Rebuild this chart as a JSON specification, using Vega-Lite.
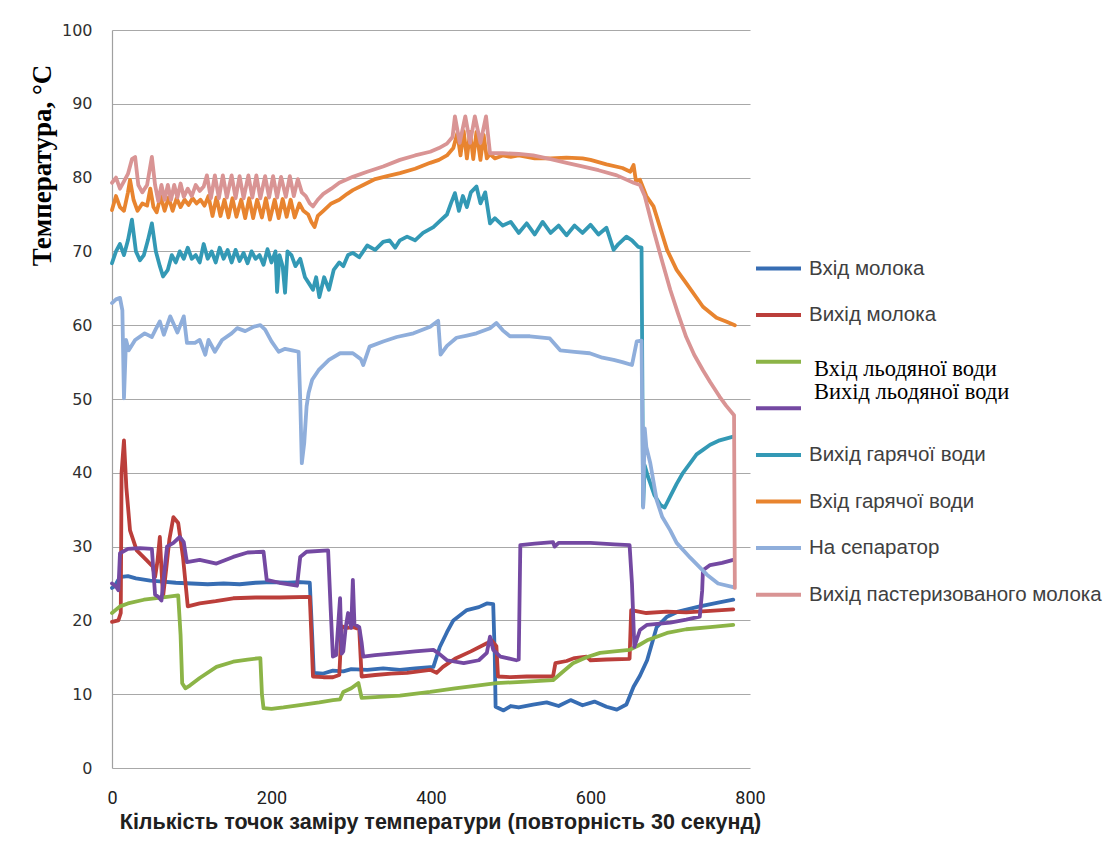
{
"$schema":"https://vega.github.io/schema/vega-lite/v6.json",
"width":638,"height":738,
"autosize":"none",
"padding":{"left":112,"top":30,"right":368,"bottom":74},
"background":"white",
"config":{"view":{"stroke":null}},
"data":{"values":[
{"s":"Вхід молока","x":0,"y":24.4},{"s":"Вхід молока","x":3,"y":24.6},{"s":"Вхід молока","x":8,"y":25.5},{"s":"Вхід молока","x":12,"y":25.9},{"s":"Вхід молока","x":20,"y":26},{"s":"Вхід молока","x":30,"y":25.7},{"s":"Вхід молока","x":48,"y":25.4},{"s":"Вхід молока","x":60,"y":25.3},{"s":"Вхід молока","x":80,"y":25.1},{"s":"Вхід молока","x":100,"y":25},{"s":"Вхід молока","x":120,"y":24.9},{"s":"Вхід молока","x":140,"y":25},{"s":"Вхід молока","x":160,"y":24.9},{"s":"Вхід молока","x":180,"y":25.1},{"s":"Вхід молока","x":200,"y":25.2},{"s":"Вхід молока","x":220,"y":25.1},{"s":"Вхід молока","x":236,"y":25.2},{"s":"Вхід молока","x":248,"y":25.1},{"s":"Вхід молока","x":251,"y":18},{"s":"Вхід молока","x":253,"y":12.9},{"s":"Вхід молока","x":265,"y":12.8},{"s":"Вхід молока","x":277,"y":13.2},{"s":"Вхід молока","x":290,"y":13.1},{"s":"Вхід молока","x":300,"y":13.4},{"s":"Вхід молока","x":320,"y":13.3},{"s":"Вхід молока","x":340,"y":13.5},{"s":"Вхід молока","x":361,"y":13.3},{"s":"Вхід молока","x":380,"y":13.5},{"s":"Вхід молока","x":403,"y":13.7},{"s":"Вхід молока","x":411,"y":16.4},{"s":"Вхід молока","x":420,"y":18.4},{"s":"Вхід молока","x":428,"y":20},{"s":"Вхід молока","x":445,"y":21.4},{"s":"Вхід молока","x":460,"y":21.8},{"s":"Вхід молока","x":470,"y":22.3},{"s":"Вхід молока","x":478,"y":22.2},{"s":"Вхід молока","x":480,"y":15},{"s":"Вхід молока","x":481,"y":8.3},{"s":"Вхід молока","x":491,"y":7.8},{"s":"Вхід молока","x":500,"y":8.4},{"s":"Вхід молока","x":510,"y":8.2},{"s":"Вхід молока","x":528,"y":8.6},{"s":"Вхід молока","x":545,"y":8.9},{"s":"Вхід молока","x":560,"y":8.4},{"s":"Вхід молока","x":575,"y":9.2},{"s":"Вхід молока","x":590,"y":8.5},{"s":"Вхід молока","x":605,"y":9},{"s":"Вхід молока","x":620,"y":8.3},{"s":"Вхід молока","x":633,"y":7.9},{"s":"Вхід молока","x":645,"y":8.6},{"s":"Вхід молока","x":654,"y":11},{"s":"Вхід молока","x":662,"y":12.5},{"s":"Вхід молока","x":671,"y":14.6},{"s":"Вхід молока","x":683,"y":19.1},{"s":"Вхід молока","x":696,"y":20.5},{"s":"Вхід молока","x":710,"y":21.2},{"s":"Вхід молока","x":737,"y":21.9},{"s":"Вхід молока","x":760,"y":22.4},{"s":"Вхід молока","x":779,"y":22.8},

{"s":"Вихід молока","x":0,"y":19.8},{"s":"Вихід молока","x":8,"y":20},{"s":"Вихід молока","x":11,"y":21},{"s":"Вихід молока","x":12,"y":40},{"s":"Вихід молока","x":15,"y":44.4},{"s":"Вихід молока","x":18,"y":38},{"s":"Вихід молока","x":22.6,"y":32.2},{"s":"Вихід молока","x":31,"y":29.5},{"s":"Вихід молока","x":43,"y":28.2},{"s":"Вихід молока","x":51,"y":27.3},{"s":"Вихід молока","x":54,"y":25.9},{"s":"Вихід молока","x":57,"y":28},{"s":"Вихід молока","x":60,"y":31.3},{"s":"Вихід молока","x":62,"y":27},{"s":"Вихід молока","x":64,"y":23.2},{"s":"Вихід молока","x":68,"y":27},{"s":"Вихід молока","x":72,"y":31},{"s":"Вихід молока","x":77,"y":34},{"s":"Вихід молока","x":83,"y":33.2},{"s":"Вихід молока","x":89,"y":28.6},{"s":"Вихід молока","x":95,"y":21.9},{"s":"Вихід молока","x":110,"y":22.3},{"s":"Вихід молока","x":130,"y":22.6},{"s":"Вихід молока","x":152,"y":23},{"s":"Вихід молока","x":180,"y":23.1},{"s":"Вихід молока","x":210,"y":23.1},{"s":"Вихід молока","x":248,"y":23.2},{"s":"Вихід молока","x":250,"y":18},{"s":"Вихід молока","x":252,"y":12.4},{"s":"Вихід молока","x":265,"y":12.3},{"s":"Вихід молока","x":277,"y":12.3},{"s":"Вихід молока","x":285,"y":12.6},{"s":"Вихід молока","x":288,"y":19.2},{"s":"Вихід молока","x":295,"y":19},{"s":"Вихід молока","x":302,"y":19.1},{"s":"Вихід молока","x":310,"y":18.8},{"s":"Вихід молока","x":313,"y":12.4},{"s":"Вихід молока","x":330,"y":12.6},{"s":"Вихід молока","x":350,"y":12.8},{"s":"Вихід молока","x":370,"y":12.9},{"s":"Вихід молока","x":399,"y":13.3},{"s":"Вихід молока","x":407,"y":12.9},{"s":"Вихід молока","x":415,"y":13.7},{"s":"Вихід молока","x":430,"y":14.8},{"s":"Вихід молока","x":450,"y":15.8},{"s":"Вихід молока","x":470,"y":16.9},{"s":"Вихід молока","x":476,"y":17.3},{"s":"Вихід молока","x":482,"y":16.5},{"s":"Вихід молока","x":484,"y":12.4},{"s":"Вихід молока","x":500,"y":12.3},{"s":"Вихід молока","x":520,"y":12.4},{"s":"Вихід молока","x":553,"y":12.4},{"s":"Вихід молока","x":556,"y":14.2},{"s":"Вихід молока","x":570,"y":14.5},{"s":"Вихід молока","x":580,"y":14.9},{"s":"Вихід молока","x":595,"y":15.1},{"s":"Вихід молока","x":600,"y":14.6},{"s":"Вихід молока","x":620,"y":14.7},{"s":"Вихід молока","x":649,"y":14.8},{"s":"Вихід молока","x":651,"y":21.4},{"s":"Вихід молока","x":670,"y":21},{"s":"Вихід молока","x":696,"y":21.2},{"s":"Вихід молока","x":720,"y":21.1},{"s":"Вихід молока","x":750,"y":21.3},{"s":"Вихід молока","x":779,"y":21.5},

{"s":"Вхід льодяної води","x":0,"y":21},{"s":"Вхід льодяної води","x":10,"y":21.9},{"s":"Вхід льодяної води","x":20,"y":22.3},{"s":"Вхід льодяної води","x":40,"y":22.8},{"s":"Вхід льодяної води","x":69,"y":23.2},{"s":"Вхід льодяної води","x":83,"y":23.4},{"s":"Вхід льодяної води","x":86,"y":18},{"s":"Вхід льодяної води","x":88,"y":11.5},{"s":"Вхід льодяної води","x":92,"y":10.8},{"s":"Вхід льодяної води","x":98,"y":11.2},{"s":"Вхід льодяної води","x":110,"y":12.2},{"s":"Вхід льодяної води","x":131,"y":13.7},{"s":"Вхід льодяної води","x":152,"y":14.4},{"s":"Вхід льодяної води","x":170,"y":14.7},{"s":"Вхід льодяної води","x":186,"y":14.9},{"s":"Вхід льодяної води","x":188,"y":10},{"s":"Вхід льодяної води","x":190,"y":8.1},{"s":"Вхід льодяної води","x":200,"y":8},{"s":"Вхід льодяної води","x":215,"y":8.2},{"s":"Вхід льодяної води","x":240,"y":8.6},{"s":"Вхід льодяної води","x":260,"y":8.9},{"s":"Вхід льодяної води","x":277,"y":9.2},{"s":"Вхід льодяної води","x":286,"y":9.3},{"s":"Вхід льодяної води","x":290,"y":10.3},{"s":"Вхід льодяної води","x":300,"y":10.8},{"s":"Вхід льодяної води","x":309,"y":11.5},{"s":"Вхід льодяної води","x":312,"y":10},{"s":"Вхід льодяної води","x":313,"y":9.5},{"s":"Вхід льодяної води","x":330,"y":9.6},{"s":"Вхід льодяної води","x":361,"y":9.8},{"s":"Вхід льодяної води","x":399,"y":10.3},{"s":"Вхід льодяної води","x":430,"y":10.8},{"s":"Вхід льодяної води","x":460,"y":11.2},{"s":"Вхід льодяної води","x":482,"y":11.5},{"s":"Вхід льодяної води","x":520,"y":11.7},{"s":"Вхід льодяної води","x":553,"y":11.9},{"s":"Вхід льодяної води","x":565,"y":13},{"s":"Вхід льодяної води","x":578,"y":14.2},{"s":"Вхід льодяної води","x":595,"y":15},{"s":"Вхід льодяної води","x":612,"y":15.6},{"s":"Вхід льодяної води","x":630,"y":15.8},{"s":"Вхід льодяної води","x":649,"y":16},{"s":"Вхід льодяної води","x":660,"y":16.6},{"s":"Вхід льодяної води","x":671,"y":17.3},{"s":"Вхід льодяної води","x":696,"y":18.3},{"s":"Вхід льодяної води","x":720,"y":18.8},{"s":"Вхід льодяної води","x":750,"y":19.1},{"s":"Вхід льодяної води","x":779,"y":19.4},

{"s":"Вихід льодяної води","x":0,"y":25},{"s":"Вихід льодяної води","x":5,"y":24.6},{"s":"Вихід льодяної води","x":8,"y":24.1},{"s":"Вихід льодяної води","x":10,"y":29.1},{"s":"Вихід льодяної води","x":20,"y":29.7},{"s":"Вихід льодяної води","x":35,"y":29.8},{"s":"Вихід льодяної води","x":50,"y":29.7},{"s":"Вихід льодяної води","x":54,"y":23.5},{"s":"Вихід льодяної води","x":58,"y":23.2},{"s":"Вихід льодяної води","x":62,"y":22.7},{"s":"Вихід льодяної води","x":66,"y":27},{"s":"Вихід льодяної води","x":69,"y":30},{"s":"Вихід льодяної води","x":77,"y":30.5},{"s":"Вихід льодяної води","x":85,"y":31.3},{"s":"Вихід льодяної води","x":90,"y":30.6},{"s":"Вихід льодяної води","x":93,"y":28.5},{"s":"Вихід льодяної води","x":94,"y":27.9},{"s":"Вихід льодяної води","x":110,"y":28.2},{"s":"Вихід льодяної води","x":131,"y":27.7},{"s":"Вихід льодяної води","x":152,"y":28.6},{"s":"Вихід льодяної води","x":170,"y":29.2},{"s":"Вихід льодяної води","x":190,"y":29.3},{"s":"Вихід льодяної води","x":194,"y":25.5},{"s":"Вихід льодяної води","x":210,"y":25.1},{"s":"Вихід льодяної води","x":232,"y":24.7},{"s":"Вихід льодяної води","x":236,"y":28.6},{"s":"Вихід льодяної води","x":244,"y":29.3},{"s":"Вихід льодяної води","x":271,"y":29.5},{"s":"Вихід льодяної води","x":274,"y":22},{"s":"Вихід льодяної води","x":277,"y":15.1},{"s":"Вихід льодяної води","x":281,"y":15.3},{"s":"Вихід льодяної води","x":284,"y":20},{"s":"Вихід льодяної води","x":286,"y":23},{"s":"Вихід льодяної води","x":288,"y":15.5},{"s":"Вихід льодяної води","x":290,"y":15.8},{"s":"Вихід льодяної води","x":293,"y":19},{"s":"Вихід льодяної води","x":296,"y":21},{"s":"Вихід льодяної води","x":300,"y":19},{"s":"Вихід льодяної води","x":302,"y":25.5},{"s":"Вихід льодяної води","x":304,"y":19.5},{"s":"Вихід льодяної води","x":310,"y":19.1},{"s":"Вихід льодяної води","x":313,"y":17},{"s":"Вихід льодяної води","x":315,"y":15.1},{"s":"Вихід льодяної води","x":330,"y":15.3},{"s":"Вихід льодяної води","x":361,"y":15.6},{"s":"Вихід льодяної води","x":380,"y":15.8},{"s":"Вихід льодяної води","x":403,"y":16},{"s":"Вихід льодяної води","x":410,"y":15.5},{"s":"Вихід льодяної води","x":420,"y":14.6},{"s":"Вихід льодяної води","x":441,"y":14.2},{"s":"Вихід льодяної води","x":460,"y":14.6},{"s":"Вихід льодяної води","x":470,"y":15.6},{"s":"Вихід льодяної води","x":474,"y":17.8},{"s":"Вихід льодяної води","x":478,"y":16},{"s":"Вихід льодяної води","x":487,"y":15.1},{"s":"Вихід льодяної води","x":507,"y":14.6},{"s":"Вихід льодяної води","x":510,"y":14.7},{"s":"Вихід льодяної води","x":512,"y":30.2},{"s":"Вихід льодяної води","x":530,"y":30.4},{"s":"Вихід льодяної води","x":553,"y":30.6},{"s":"Вихід льодяної води","x":555,"y":30},{"s":"Вихід льодяної води","x":560,"y":30.5},{"s":"Вихід льодяної води","x":600,"y":30.5},{"s":"Вихід льодяної води","x":630,"y":30.3},{"s":"Вихід льодяної води","x":649,"y":30.2},{"s":"Вихід льодяної води","x":652,"y":25},{"s":"Вихід льодяної води","x":655,"y":16.4},{"s":"Вихід льодяної води","x":662,"y":18.7},{"s":"Вихід льодяної води","x":671,"y":19.4},{"s":"Вихід льодяної води","x":700,"y":19.7},{"s":"Вихід льодяної води","x":720,"y":20.1},{"s":"Вихід льодяної води","x":737,"y":20.5},{"s":"Вихід льодяної води","x":740,"y":24},{"s":"Вихід льодяної води","x":741,"y":26.8},{"s":"Вихід льодяної води","x":750,"y":27.5},{"s":"Вихід льодяної води","x":765,"y":27.8},{"s":"Вихід льодяної води","x":779,"y":28.2},

{"s":"Вихід гарячої води","x":0,"y":68.4},{"s":"Вихід гарячої води","x":5,"y":70},{"s":"Вихід гарячої води","x":10,"y":71},{"s":"Вихід гарячої води","x":15,"y":69.5},{"s":"Вихід гарячої води","x":20,"y":71.5},{"s":"Вихід гарячої води","x":25,"y":74.3},{"s":"Вихід гарячої води","x":30,"y":70},{"s":"Вихід гарячої води","x":35,"y":68.8},{"s":"Вихід гарячої води","x":40,"y":69.5},{"s":"Вихід гарячої води","x":45,"y":71.5},{"s":"Вихід гарячої води","x":50,"y":73.8},{"s":"Вихід гарячої води","x":55,"y":70},{"s":"Вихід гарячої води","x":60,"y":68},{"s":"Вихід гарячої води","x":64,"y":66.6},{"s":"Вихід гарячої води","x":70,"y":67.5},{"s":"Вихід гарячої води","x":75,"y":69.5},{"s":"Вихід гарячої води","x":80,"y":68.5},{"s":"Вихід гарячої води","x":85,"y":70},{"s":"Вихід гарячої води","x":90,"y":69},{"s":"Вихід гарячої води","x":95,"y":70.5},{"s":"Вихід гарячої води","x":100,"y":69},{"s":"Вихід гарячої води","x":105,"y":69.5},{"s":"Вихід гарячої води","x":110,"y":68.5},{"s":"Вихід гарячої води","x":115,"y":71},{"s":"Вихід гарячої води","x":120,"y":69},{"s":"Вихід гарячої води","x":125,"y":70},{"s":"Вихід гарячої води","x":130,"y":68.5},{"s":"Вихід гарячої води","x":135,"y":70.5},{"s":"Вихід гарячої води","x":140,"y":69},{"s":"Вихід гарячої води","x":145,"y":70.2},{"s":"Вихід гарячої води","x":150,"y":68.5},{"s":"Вихід гарячої води","x":155,"y":70.2},{"s":"Вихід гарячої води","x":160,"y":68.7},{"s":"Вихід гарячої води","x":165,"y":69.8},{"s":"Вихід гарячої води","x":170,"y":68.4},{"s":"Вихід гарячої води","x":175,"y":70},{"s":"Вихід гарячої води","x":180,"y":69},{"s":"Вихід гарячої води","x":185,"y":69.5},{"s":"Вихід гарячої води","x":190,"y":68.2},{"s":"Вихід гарячої води","x":195,"y":70.3},{"s":"Вихід гарячої води","x":200,"y":68.5},{"s":"Вихід гарячої води","x":205,"y":70},{"s":"Вихід гарячої води","x":207,"y":64.5},{"s":"Вихід гарячої води","x":210,"y":69.5},{"s":"Вихід гарячої води","x":214,"y":68},{"s":"Вихід гарячої води","x":217,"y":64.4},{"s":"Вихід гарячої води","x":220,"y":70},{"s":"Вихід гарячої води","x":225,"y":69.5},{"s":"Вихід гарячої води","x":230,"y":68},{"s":"Вихід гарячої води","x":236,"y":69},{"s":"Вихід гарячої води","x":242,"y":66.5},{"s":"Вихід гарячої води","x":248,"y":65.5},{"s":"Вихід гарячої води","x":252,"y":64.8},{"s":"Вихід гарячої води","x":256,"y":66.5},{"s":"Вихід гарячої води","x":260,"y":63.8},{"s":"Вихід гарячої води","x":266,"y":66.5},{"s":"Вихід гарячої води","x":272,"y":64.8},{"s":"Вихід гарячої води","x":278,"y":67.5},{"s":"Вихід гарячої води","x":285,"y":68.5},{"s":"Вихід гарячої води","x":290,"y":68},{"s":"Вихід гарячої води","x":296,"y":69.5},{"s":"Вихід гарячої води","x":302,"y":69.8},{"s":"Вихід гарячої води","x":310,"y":69.2},{"s":"Вихід гарячої води","x":320,"y":70.8},{"s":"Вихід гарячої води","x":330,"y":70.2},{"s":"Вихід гарячої води","x":340,"y":71.3},{"s":"Вихід гарячої води","x":348,"y":71.5},{"s":"Вихід гарячої води","x":355,"y":70.5},{"s":"Вихід гарячої води","x":361,"y":71.5},{"s":"Вихід гарячої води","x":370,"y":72},{"s":"Вихід гарячої води","x":380,"y":71.5},{"s":"Вихід гарячої води","x":390,"y":72.5},{"s":"Вихід гарячої води","x":403,"y":73.3},{"s":"Вихід гарячої води","x":410,"y":74},{"s":"Вихід гарячої води","x":420,"y":75},{"s":"Вихід гарячої води","x":425,"y":76.5},{"s":"Вихід гарячої води","x":430,"y":77.9},{"s":"Вихід гарячої води","x":435,"y":75.5},{"s":"Вихід гарячої води","x":440,"y":77.5},{"s":"Вихід гарячої води","x":445,"y":76},{"s":"Вихід гарячої води","x":450,"y":78},{"s":"Вихід гарячої води","x":457,"y":78.8},{"s":"Вихід гарячої води","x":462,"y":76.5},{"s":"Вихід гарячої води","x":468,"y":78},{"s":"Вихід гарячої води","x":474,"y":73.8},{"s":"Вихід гарячої води","x":480,"y":74.5},{"s":"Вихід гарячої води","x":490,"y":73.5},{"s":"Вихід гарячої води","x":500,"y":74},{"s":"Вихід гарячої води","x":510,"y":72.5},{"s":"Вихід гарячої води","x":520,"y":73.8},{"s":"Вихід гарячої води","x":530,"y":72.3},{"s":"Вихід гарячої води","x":540,"y":74},{"s":"Вихід гарячої води","x":550,"y":72.5},{"s":"Вихід гарячої води","x":560,"y":73.5},{"s":"Вихід гарячої води","x":570,"y":72.2},{"s":"Вихід гарячої води","x":580,"y":73.5},{"s":"Вихід гарячої води","x":590,"y":72.5},{"s":"Вихід гарячої води","x":600,"y":73.6},{"s":"Вихід гарячої води","x":610,"y":72.3},{"s":"Вихід гарячої води","x":620,"y":73.2},{"s":"Вихід гарячої води","x":629,"y":70.2},{"s":"Вихід гарячої води","x":635,"y":71},{"s":"Вихід гарячої води","x":645,"y":72},{"s":"Вихід гарячої води","x":652,"y":71.5},{"s":"Вихід гарячої води","x":660,"y":70.6},{"s":"Вихід гарячої води","x":664,"y":70.5},{"s":"Вихід гарячої води","x":666,"y":35.5},{"s":"Вихід гарячої води","x":668,"y":41},{"s":"Вихід гарячої води","x":672,"y":39.5},{"s":"Вихід гарячої води","x":680,"y":37},{"s":"Вихід гарячої води","x":688,"y":35.6},{"s":"Вихід гарячої води","x":693,"y":35.3},{"s":"Вихід гарячої води","x":700,"y":36.8},{"s":"Вихід гарячої води","x":708,"y":38.5},{"s":"Вихід гарячої води","x":716,"y":40},{"s":"Вихід гарячої води","x":725,"y":41.3},{"s":"Вихід гарячої води","x":733,"y":42.5},{"s":"Вихід гарячої води","x":741,"y":43.1},{"s":"Вихід гарячої води","x":750,"y":43.8},{"s":"Вихід гарячої води","x":762,"y":44.4},{"s":"Вихід гарячої води","x":779,"y":44.9},

{"s":"Вхід гарячої води","x":0,"y":75.6},{"s":"Вхід гарячої води","x":5,"y":77.5},{"s":"Вхід гарячої води","x":10,"y":76},{"s":"Вхід гарячої води","x":15,"y":75.5},{"s":"Вхід гарячої води","x":20,"y":78},{"s":"Вхід гарячої води","x":22.6,"y":79.7},{"s":"Вхід гарячої води","x":27,"y":77},{"s":"Вхід гарячої води","x":32,"y":75.5},{"s":"Вхід гарячої води","x":38,"y":76.5},{"s":"Вхід гарячої води","x":44,"y":76.2},{"s":"Вхід гарячої води","x":48,"y":78.5},{"s":"Вхід гарячої води","x":52,"y":76},{"s":"Вхід гарячої води","x":56,"y":75.3},{"s":"Вхід гарячої води","x":61,"y":77.5},{"s":"Вхід гарячої води","x":66,"y":75.5},{"s":"Вхід гарячої води","x":71,"y":77.3},{"s":"Вхід гарячої води","x":76,"y":75.5},{"s":"Вхід гарячої води","x":81,"y":77.2},{"s":"Вхід гарячої води","x":86,"y":76},{"s":"Вхід гарячої води","x":91,"y":77},{"s":"Вхід гарячої води","x":96,"y":76.3},{"s":"Вхід гарячої води","x":101,"y":77.2},{"s":"Вхід гарячої води","x":106,"y":76.5},{"s":"Вхід гарячої води","x":111,"y":77},{"s":"Вхід гарячої води","x":116,"y":76.2},{"s":"Вхід гарячої води","x":121,"y":77.5},{"s":"Вхід гарячої води","x":126,"y":74.8},{"s":"Вхід гарячої води","x":131,"y":77.3},{"s":"Вхід гарячої води","x":136,"y":74.8},{"s":"Вхід гарячої води","x":141,"y":77},{"s":"Вхід гарячої води","x":146,"y":74.6},{"s":"Вхід гарячої води","x":151,"y":77.2},{"s":"Вхід гарячої води","x":156,"y":74.7},{"s":"Вхід гарячої води","x":162,"y":77},{"s":"Вхід гарячої води","x":167,"y":74.5},{"s":"Вхід гарячої води","x":172,"y":77.2},{"s":"Вхід гарячої води","x":177,"y":74.5},{"s":"Вхід гарячої води","x":182,"y":77},{"s":"Вхід гарячої води","x":188,"y":74.6},{"s":"Вхід гарячої води","x":193,"y":77.2},{"s":"Вхід гарячої води","x":198,"y":74.3},{"s":"Вхід гарячої води","x":204,"y":77},{"s":"Вхід гарячої води","x":209,"y":74.5},{"s":"Вхід гарячої води","x":214,"y":77.1},{"s":"Вхід гарячої води","x":219,"y":74.7},{"s":"Вхід гарячої води","x":224,"y":77},{"s":"Вхід гарячої води","x":229,"y":74.6},{"s":"Вхід гарячої води","x":235,"y":76.5},{"s":"Вхід гарячої води","x":240,"y":75.5},{"s":"Вхід гарячої води","x":246,"y":75},{"s":"Вхід гарячої води","x":250,"y":74},{"s":"Вхід гарячої води","x":254,"y":73.3},{"s":"Вхід гарячої води","x":258,"y":74.8},{"s":"Вхід гарячої води","x":265,"y":75.5},{"s":"Вхід гарячої води","x":275,"y":76.5},{"s":"Вхід гарячої води","x":285,"y":77},{"s":"Вхід гарячої води","x":295,"y":77.8},{"s":"Вхід гарячої води","x":302,"y":78.3},{"s":"Вхід гарячої води","x":315,"y":79},{"s":"Вхід гарячої води","x":330,"y":79.8},{"s":"Вхід гарячої води","x":345,"y":80.2},{"s":"Вхід гарячої води","x":361,"y":80.6},{"s":"Вхід гарячої води","x":380,"y":81.2},{"s":"Вхід гарячої води","x":399,"y":82},{"s":"Вхід гарячої води","x":410,"y":82.4},{"s":"Вхід гарячої води","x":420,"y":83},{"s":"Вхід гарячої води","x":428,"y":84},{"s":"Вхід гарячої води","x":433,"y":86},{"s":"Вхід гарячої води","x":437,"y":83},{"s":"Вхід гарячої води","x":441,"y":86.3},{"s":"Вхід гарячої води","x":445,"y":82.6},{"s":"Вхід гарячої води","x":449,"y":86.2},{"s":"Вхід гарячої води","x":453,"y":82.5},{"s":"Вхід гарячої води","x":457,"y":86.2},{"s":"Вхід гарячої води","x":462,"y":82.4},{"s":"Вхід гарячої води","x":466,"y":85.8},{"s":"Вхід гарячої води","x":470,"y":82.6},{"s":"Вхід гарячої води","x":474,"y":83.2},{"s":"Вхід гарячої води","x":480,"y":82.6},{"s":"Вхід гарячої води","x":490,"y":83},{"s":"Вхід гарячої води","x":500,"y":82.8},{"s":"Вхід гарячої води","x":510,"y":83},{"s":"Вхід гарячої води","x":530,"y":82.6},{"s":"Вхід гарячої води","x":550,"y":82.6},{"s":"Вхід гарячої води","x":570,"y":82.7},{"s":"Вхід гарячої води","x":590,"y":82.6},{"s":"Вхід гарячої води","x":600,"y":82.4},{"s":"Вхід гарячої води","x":620,"y":81.8},{"s":"Вхід гарячої води","x":640,"y":81.3},{"s":"Вхід гарячої води","x":650,"y":80.8},{"s":"Вхід гарячої води","x":654,"y":81.7},{"s":"Вхід гарячої води","x":657,"y":79.5},{"s":"Вхід гарячої води","x":662,"y":79.7},{"s":"Вхід гарячої води","x":670,"y":77.5},{"s":"Вхід гарячої води","x":679,"y":76.1},{"s":"Вхід гарячої води","x":696,"y":70.2},{"s":"Вхід гарячої води","x":708,"y":67.5},{"s":"Вхід гарячої води","x":720,"y":65.7},{"s":"Вхід гарячої води","x":741,"y":62.5},{"s":"Вхід гарячої води","x":758,"y":61},{"s":"Вхід гарячої води","x":770,"y":60.5},{"s":"Вхід гарячої води","x":781,"y":60},

{"s":"На сепаратор","x":0,"y":63},{"s":"На сепаратор","x":5,"y":63.5},{"s":"На сепаратор","x":10,"y":63.7},{"s":"На сепаратор","x":13,"y":62},{"s":"На сепаратор","x":15,"y":50.1},{"s":"На сепаратор","x":17.6,"y":58},{"s":"На сепаратор","x":21,"y":56.6},{"s":"На сепаратор","x":29,"y":58},{"s":"На сепаратор","x":41,"y":58.9},{"s":"На сепаратор","x":50,"y":58.4},{"s":"На сепаратор","x":55,"y":59.5},{"s":"На сепаратор","x":60,"y":60.5},{"s":"На сепаратор","x":65,"y":58.7},{"s":"На сепаратор","x":73,"y":61.2},{"s":"На сепаратор","x":82,"y":59},{"s":"На сепаратор","x":90,"y":61.2},{"s":"На сепаратор","x":94,"y":57.6},{"s":"На сепаратор","x":104,"y":57.6},{"s":"На сепаратор","x":110,"y":58},{"s":"На сепаратор","x":117,"y":56},{"s":"На сепаратор","x":121,"y":58},{"s":"На сепаратор","x":129,"y":56.4},{"s":"На сепаратор","x":138,"y":58},{"s":"На сепаратор","x":150,"y":58.9},{"s":"На сепаратор","x":157,"y":59.6},{"s":"На сепаратор","x":167,"y":59.2},{"s":"На сепаратор","x":178,"y":59.8},{"s":"На сепаратор","x":186,"y":60},{"s":"На сепаратор","x":192,"y":59.4},{"s":"На сепаратор","x":200,"y":57.8},{"s":"На сепаратор","x":209,"y":56.4},{"s":"На сепаратор","x":217,"y":56.8},{"s":"На сепаратор","x":226,"y":56.6},{"s":"На сепаратор","x":234,"y":56.4},{"s":"На сепаратор","x":236,"y":50},{"s":"На сепаратор","x":238,"y":41.3},{"s":"На сепаратор","x":241,"y":44},{"s":"На сепаратор","x":244,"y":49},{"s":"На сепаратор","x":246.5,"y":50.8},{"s":"На сепаратор","x":251,"y":52.6},{"s":"На сепаратор","x":259,"y":53.9},{"s":"На сепаратор","x":272,"y":55.3},{"s":"На сепаратор","x":286,"y":56.2},{"s":"На сепаратор","x":302,"y":56.2},{"s":"На сепаратор","x":312,"y":55.4},{"s":"На сепаратор","x":315,"y":54.6},{"s":"На сепаратор","x":323,"y":57.1},{"s":"На сепаратор","x":340,"y":57.8},{"s":"На сепаратор","x":357,"y":58.4},{"s":"На сепаратор","x":378,"y":58.9},{"s":"На сепаратор","x":399,"y":59.8},{"s":"На сепаратор","x":409,"y":60.6},{"s":"На сепаратор","x":412,"y":56},{"s":"На сепаратор","x":420,"y":57.2},{"s":"На сепаратор","x":432,"y":58.3},{"s":"На сепаратор","x":445,"y":58.6},{"s":"На сепаратор","x":457,"y":58.9},{"s":"На сепаратор","x":474,"y":59.6},{"s":"На сепаратор","x":482,"y":60.3},{"s":"На сепаратор","x":490,"y":59.3},{"s":"На сепаратор","x":499,"y":58.5},{"s":"На сепаратор","x":524,"y":58.5},{"s":"На сепаратор","x":549,"y":58.2},{"s":"На сепаратор","x":562,"y":56.6},{"s":"На сепаратор","x":580,"y":56.4},{"s":"На сепаратор","x":599,"y":56.2},{"s":"На сепаратор","x":615,"y":55.6},{"s":"На сепаратор","x":629,"y":55.3},{"s":"На сепаратор","x":640,"y":55},{"s":"На сепаратор","x":652,"y":54.6},{"s":"На сепаратор","x":658,"y":57.8},{"s":"На сепаратор","x":664,"y":57.9},{"s":"На сепаратор","x":666,"y":35.3},{"s":"На сепаратор","x":668,"y":46},{"s":"На сепаратор","x":670,"y":43.5},{"s":"На сепаратор","x":675,"y":41.3},{"s":"На сепаратор","x":683,"y":36.3},{"s":"На сепаратор","x":690,"y":34},{"s":"На сепаратор","x":700,"y":32.2},{"s":"На сепаратор","x":708,"y":30.5},{"s":"На сепаратор","x":725,"y":28.5},{"s":"На сепаратор","x":746,"y":26.2},{"s":"На сепаратор","x":760,"y":25},{"s":"На сепаратор","x":779,"y":24.5},

{"s":"Вихід пастеризованого молока","x":0,"y":79.3},{"s":"Вихід пастеризованого молока","x":5,"y":80},{"s":"Вихід пастеризованого молока","x":10,"y":78.5},{"s":"Вихід пастеризованого молока","x":15,"y":79.5},{"s":"Вихід пастеризованого молока","x":20,"y":80.5},{"s":"Вихід пастеризованого молока","x":25,"y":82.5},{"s":"Вихід пастеризованого молока","x":29,"y":82.8},{"s":"Вихід пастеризованого молока","x":33,"y":79},{"s":"Вихід пастеризованого молока","x":38,"y":78},{"s":"Вихід пастеризованого молока","x":44,"y":79},{"s":"Вихід пастеризованого молока","x":50,"y":82.8},{"s":"Вихід пастеризованого молока","x":54,"y":79},{"s":"Вихід пастеризованого молока","x":58,"y":76.8},{"s":"Вихід пастеризованого молока","x":62,"y":79},{"s":"Вихід пастеризованого молока","x":66,"y":77},{"s":"Вихід пастеризованого молока","x":70,"y":79},{"s":"Вихід пастеризованого молока","x":74,"y":77},{"s":"Вихід пастеризованого молока","x":78,"y":79},{"s":"Вихід пастеризованого молока","x":82,"y":77.3},{"s":"Вихід пастеризованого молока","x":86,"y":79.2},{"s":"Вихід пастеризованого молока","x":90,"y":77.4},{"s":"Вихід пастеризованого молока","x":95,"y":78.5},{"s":"Вихід пастеризованого молока","x":100,"y":77.5},{"s":"Вихід пастеризованого молока","x":105,"y":79},{"s":"Вихід пастеризованого молока","x":110,"y":78.2},{"s":"Вихід пастеризованого молока","x":115,"y":78.8},{"s":"Вихід пастеризованого молока","x":119,"y":80.3},{"s":"Вихід пастеризованого молока","x":124,"y":77.2},{"s":"Вихід пастеризованого молока","x":129,"y":80.3},{"s":"Вихід пастеризованого молока","x":134,"y":77.2},{"s":"Вихід пастеризованого молока","x":139,"y":80.3},{"s":"Вихід пастеризованого молока","x":144,"y":77.3},{"s":"Вихід пастеризованого молока","x":150,"y":80.3},{"s":"Вихід пастеризованого молока","x":155,"y":77.2},{"s":"Вихід пастеризованого молока","x":160,"y":80.2},{"s":"Вихід пастеризованого молока","x":165,"y":77.2},{"s":"Вихід пастеризованого молока","x":171,"y":80.3},{"s":"Вихід пастеризованого молока","x":176,"y":77.3},{"s":"Вихід пастеризованого молока","x":181,"y":80.3},{"s":"Вихід пастеризованого молока","x":186,"y":77.2},{"s":"Вихід пастеризованого молока","x":192,"y":80.2},{"s":"Вихід пастеризованого молока","x":197,"y":77.3},{"s":"Вихід пастеризованого молока","x":202,"y":80.2},{"s":"Вихід пастеризованого молока","x":207,"y":77.3},{"s":"Вихід пастеризованого молока","x":212,"y":80.1},{"s":"Вихід пастеризованого молока","x":218,"y":77.4},{"s":"Вихід пастеризованого молока","x":223,"y":80.2},{"s":"Вихід пастеризованого молока","x":228,"y":77.5},{"s":"Вихід пастеризованого молока","x":233,"y":79.8},{"s":"Вихід пастеризованого молока","x":238,"y":78},{"s":"Вихід пастеризованого молока","x":243,"y":77.5},{"s":"Вихід пастеризованого молока","x":248,"y":76.5},{"s":"Вихід пастеризованого молока","x":252,"y":76.1},{"s":"Вихід пастеризованого молока","x":258,"y":77},{"s":"Вихід пастеризованого молока","x":265,"y":77.8},{"s":"Вихід пастеризованого молока","x":275,"y":78.5},{"s":"Вихід пастеризованого молока","x":285,"y":79.3},{"s":"Вихід пастеризованого молока","x":302,"y":80.1},{"s":"Вихід пастеризованого молока","x":320,"y":80.8},{"s":"Вихід пастеризованого молока","x":340,"y":81.5},{"s":"Вихід пастеризованого молока","x":361,"y":82.4},{"s":"Вихід пастеризованого молока","x":380,"y":83},{"s":"Вихід пастеризованого молока","x":399,"y":83.5},{"s":"Вихід пастеризованого молока","x":410,"y":84},{"s":"Вихід пастеризованого молока","x":420,"y":84.6},{"s":"Вихід пастеризованого молока","x":427,"y":85.5},{"s":"Вихід пастеризованого молока","x":430,"y":88.3},{"s":"Вихід пастеризованого молока","x":436,"y":84.7},{"s":"Вихід пастеризованого молока","x":443,"y":88.3},{"s":"Вихід пастеризованого молока","x":449,"y":84.7},{"s":"Вихід пастеризованого молока","x":455,"y":88.3},{"s":"Вихід пастеризованого молока","x":462,"y":84.7},{"s":"Вихід пастеризованого молока","x":469,"y":88.3},{"s":"Вихід пастеризованого молока","x":474,"y":83.3},{"s":"Вихід пастеризованого молока","x":490,"y":83.3},{"s":"Вихід пастеризованого молока","x":510,"y":83.2},{"s":"Вихід пастеризованого молока","x":528,"y":83},{"s":"Вихід пастеризованого молока","x":550,"y":82.5},{"s":"Вихід пастеризованого молока","x":570,"y":82},{"s":"Вихід пастеризованого молока","x":591,"y":81.5},{"s":"Вихід пастеризованого молока","x":610,"y":81},{"s":"Вихід пастеризованого молока","x":633,"y":80.3},{"s":"Вихід пастеризованого молока","x":654,"y":79.3},{"s":"Вихід пастеризованого молока","x":662,"y":79},{"s":"Вихід пастеризованого молока","x":668,"y":77.5},{"s":"Вихід пастеризованого молока","x":679,"y":72.9},{"s":"Вихід пастеризованого молока","x":690,"y":68.6},{"s":"Вихід пастеризованого молока","x":700,"y":64.8},{"s":"Вихід пастеризованого молока","x":710,"y":61.5},{"s":"Вихід пастеризованого молока","x":720,"y":58.4},{"s":"Вихід пастеризованого молока","x":730,"y":56},{"s":"Вихід пастеризованого молока","x":741,"y":53.9},{"s":"Вихід пастеризованого молока","x":750,"y":52.3},{"s":"Вихід пастеризованого молока","x":762,"y":50.3},{"s":"Вихід пастеризованого молока","x":770,"y":49.1},{"s":"Вихід пастеризованого молока","x":780,"y":47.8},{"s":"Вихід пастеризованого молока","x":781,"y":24.4}
]},
"mark":{"type":"line","strokeWidth":3.8,"strokeJoin":"round","strokeCap":"round","clip":false},
"encoding":{
"x":{"field":"x","type":"quantitative","scale":{"domain":[0,800],"nice":false,"zero":true},
"axis":{"values":[0,200,400,600,800],"grid":false,"domain":false,"ticks":false,"labelPadding":21,"labelFont":"Roboto","labelFontSize":18,"labelColor":"#202020","labelFlush":false,
"title":"Кількість точок заміру температури (повторність 30 секунд)","titleFont":"Liberation Sans","titleFontSize":21.5,"titleFontWeight":"bold","titleColor":"#202020","titlePadding":4,"titleX":328}},
"y":{"field":"y","type":"quantitative","scale":{"domain":[0,100],"nice":false},
"axis":{"values":[0,10,20,30,40,50,60,70,80,90,100],"grid":true,"gridColor":"#A8A8A8","gridWidth":1.2,"domain":true,"domainColor":"#A0A0A0","domainWidth":1.2,"ticks":false,"labelPadding":20,"labelFont":"DejaVu Sans","labelFontSize":16,"labelColor":"#303030",
"title":"Температура, °С","titleFont":"Liberation Serif","titleFontSize":27,"titleFontWeight":"bold","titleColor":"#000000","titleX":-70,"titleY":135,"titleAngle":-90,"titleAlign":"center","titleBaseline":"middle"}},
"color":{"field":"s","type":"nominal",
"scale":{"domain":["Вхід молока","Вихід молока","Вхід льодяної води","Вихід льодяної води","Вихід гарячої води","Вхід гарячої води","На сепаратор","Вихід пастеризованого молока"],
"range":["#376DB3","#BB3E3A","#8CB447","#7449A2","#3399B5","#E8842F","#8FAEDB","#D99494"]},
"legend":{"orient":"none","legendX":642,"legendY":214,"title":null,"symbolType":"stroke","symbolSize":2025,"symbolStrokeWidth":4,
"labelFont":"Liberation Sans","labelFontSize":20.5,"labelColor":"#404040","labelOffset":6,"labelLimit":420,"rowPadding":0.6,"gridAlign":"all",
"encode":{"labels":{"update":{
"font":[{"test":"indexof(datum.label,'льодяної')>=0","value":"Liberation Serif"},{"value":"Liberation Sans"}],
"fontSize":[{"test":"indexof(datum.label,'льодяної')>=0","value":22.5},{"value":20.5}],
"fill":[{"test":"indexof(datum.label,'льодяної')>=0","value":"#000000"},{"value":"#404040"}],
"dy":[{"test":"datum.label==='Вхід льодяної води'","value":7},{"test":"datum.label==='Вихід льодяної води'","value":-16},{"value":0}],
"dx":[{"test":"indexof(datum.label,'льодяної')>=0","value":5},{"value":0}]
}}}}}
}
}
